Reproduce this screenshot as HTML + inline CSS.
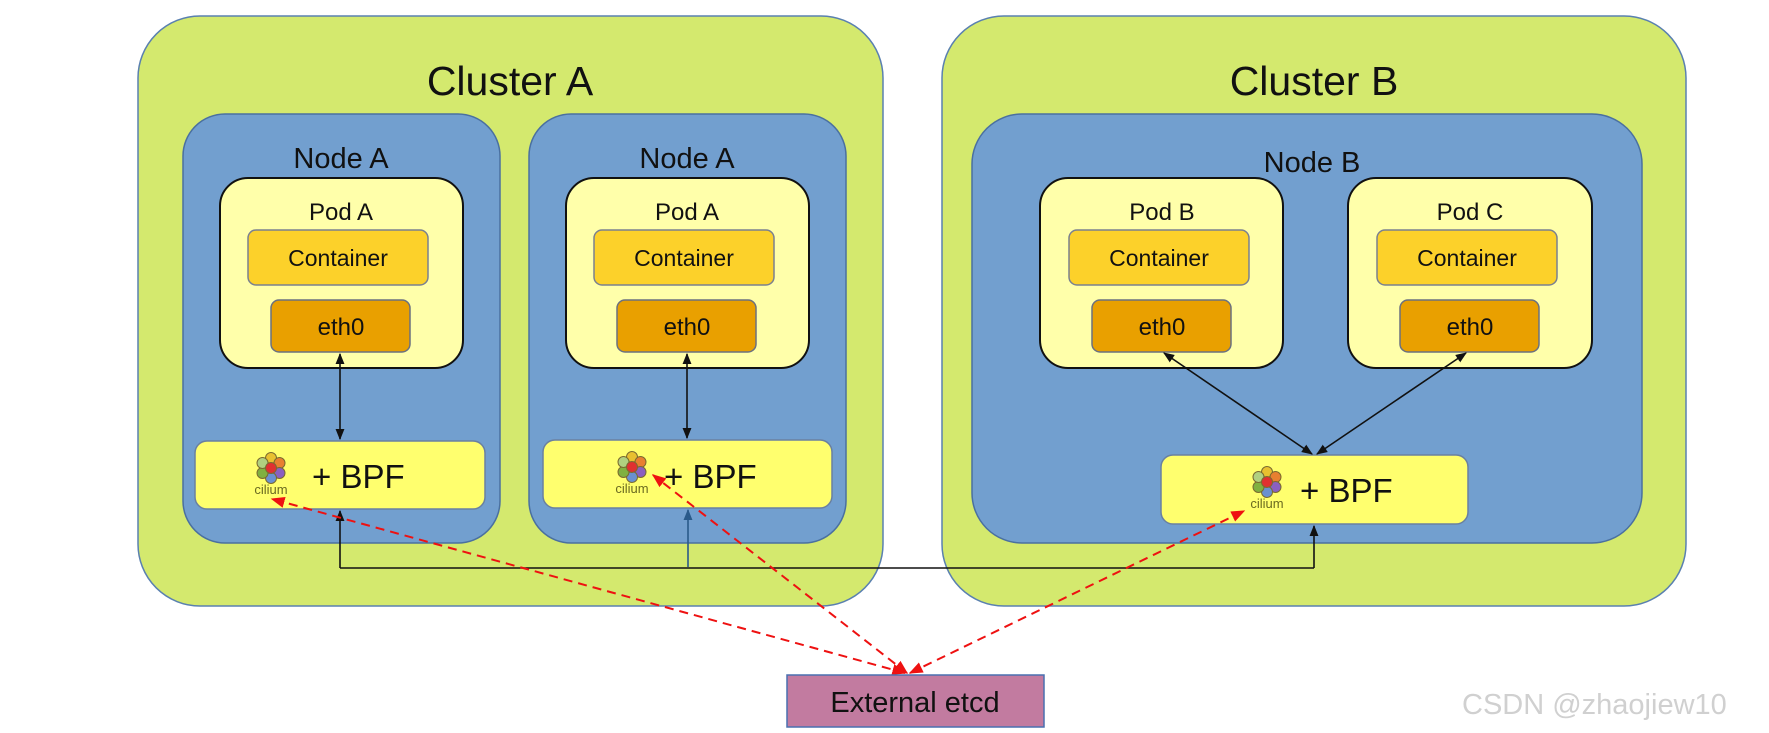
<!DOCTYPE html>
<html><head><meta charset="utf-8"><style>
html,body{margin:0;padding:0;background:#fff;}
svg{display:block;}
text{font-family:"Liberation Sans",Arial,sans-serif;fill:#111;}
</style></head><body>
<svg width="1769" height="733" viewBox="0 0 1769 733" xmlns="http://www.w3.org/2000/svg">
<defs>
<marker id="ab" viewBox="0 0 10 10" refX="9" refY="5" markerWidth="7" markerHeight="7" orient="auto-start-reverse"><path d="M0,1 L10,5 L0,9 z" fill="#111"/></marker>
<marker id="abl" viewBox="0 0 10 10" refX="9" refY="5" markerWidth="7" markerHeight="7" orient="auto"><path d="M0,1 L10,5 L0,9 z" fill="#2a5a8a"/></marker>
<marker id="ar" viewBox="0 0 10 10" refX="9" refY="5" markerWidth="7" markerHeight="7" orient="auto-start-reverse"><path d="M0,1 L10,5 L0,9 z" fill="#ee1111"/></marker>
<g id="cil">
<circle cx="0" cy="-10" r="5.5" fill="#e8c030" stroke="#7a6a30" stroke-width="1"/>
<circle cx="8.5" cy="-5" r="5.5" fill="#e88030" stroke="#7a6a30" stroke-width="1"/>
<circle cx="8.5" cy="5" r="5.5" fill="#8a60c0" stroke="#7a6a30" stroke-width="1"/>
<circle cx="0" cy="10" r="5.5" fill="#6a90d0" stroke="#7a6a30" stroke-width="1"/>
<circle cx="-8.5" cy="5" r="5.5" fill="#80b040" stroke="#7a6a30" stroke-width="1"/>
<circle cx="-8.5" cy="-5" r="5.5" fill="#b0d080" stroke="#7a6a30" stroke-width="1"/>
<circle cx="0" cy="0" r="5.5" fill="#e03030" stroke="#7a6a30" stroke-width="1"/>
<text x="0" y="26" text-anchor="middle" font-size="13" style="fill:#6a6a20">cilium</text>
</g>
</defs>

<rect x="138" y="16" width="745" height="590" rx="62" fill="#d4e96e" stroke="#5a80b0" stroke-width="1.5"/>
<rect x="942" y="16" width="744" height="590" rx="62" fill="#d4e96e" stroke="#5a80b0" stroke-width="1.5"/>
<text x="510" y="95" text-anchor="middle" font-size="41">Cluster A</text>
<text x="1314" y="95" text-anchor="middle" font-size="41">Cluster B</text>

<rect x="183" y="114" width="317" height="429" rx="42" fill="#729fcf" stroke="#4a70a0" stroke-width="1.5"/>
<rect x="529" y="114" width="317" height="429" rx="42" fill="#729fcf" stroke="#4a70a0" stroke-width="1.5"/>
<rect x="972" y="114" width="670" height="429" rx="50" fill="#729fcf" stroke="#4a70a0" stroke-width="1.5"/>
<text x="341" y="168" text-anchor="middle" font-size="29">Node A</text>
<text x="687" y="168" text-anchor="middle" font-size="29">Node A</text>
<text x="1312" y="172" text-anchor="middle" font-size="29">Node B</text>

<g stroke="#111" stroke-width="2" fill="#ffffaa">
<rect x="220" y="178" width="243" height="190" rx="28"/>
<rect x="566" y="178" width="243" height="190" rx="28"/>
<rect x="1040" y="178" width="243" height="190" rx="28"/>
<rect x="1348" y="178" width="244" height="190" rx="28"/>
</g>
<text x="341" y="220" text-anchor="middle" font-size="24">Pod A</text>
<text x="687" y="220" text-anchor="middle" font-size="24">Pod A</text>
<text x="1162" y="220" text-anchor="middle" font-size="24">Pod B</text>
<text x="1470" y="220" text-anchor="middle" font-size="24">Pod C</text>

<g fill="#fcd12a" stroke="#7a8090" stroke-width="1.5">
<rect x="248" y="230" width="180" height="55" rx="8"/>
<rect x="594" y="230" width="180" height="55" rx="8"/>
<rect x="1069" y="230" width="180" height="55" rx="8"/>
<rect x="1377" y="230" width="180" height="55" rx="8"/>
</g>
<g font-size="23" text-anchor="middle">
<text x="338" y="266">Container</text>
<text x="684" y="266">Container</text>
<text x="1159" y="266">Container</text>
<text x="1467" y="266">Container</text>
</g>

<g fill="#e9a000" stroke="#6a7080" stroke-width="1.5">
<rect x="271" y="300" width="139" height="52" rx="8"/>
<rect x="617" y="300" width="139" height="52" rx="8"/>
<rect x="1092" y="300" width="139" height="52" rx="8"/>
<rect x="1400" y="300" width="139" height="52" rx="8"/>
</g>
<g font-size="24" text-anchor="middle">
<text x="341" y="335">eth0</text>
<text x="687" y="335">eth0</text>
<text x="1162" y="335">eth0</text>
<text x="1470" y="335">eth0</text>
</g>

<g fill="#ffff6e" stroke="#6a80a0" stroke-width="1.5">
<rect x="195" y="441" width="290" height="68" rx="12"/>
<rect x="543" y="440" width="289" height="68" rx="12"/>
<rect x="1161" y="455" width="307" height="69" rx="12"/>
</g>
<use href="#cil" x="271" y="468"/>
<use href="#cil" x="632" y="467"/>
<use href="#cil" x="1267" y="482"/>
<g font-size="33">
<text x="312" y="488">+ BPF</text>
<text x="664" y="488">+ BPF</text>
<text x="1300" y="502">+ BPF</text>
</g>

<g stroke="#111" stroke-width="1.6" fill="none">
<line x1="340" y1="354" x2="340" y2="439" marker-start="url(#ab)" marker-end="url(#ab)"/>
<line x1="687" y1="354" x2="687" y2="438" marker-start="url(#ab)" marker-end="url(#ab)"/>
<line x1="1164" y1="353" x2="1312" y2="454" marker-start="url(#ab)" marker-end="url(#ab)"/>
<line x1="1466" y1="353" x2="1317" y2="454" marker-start="url(#ab)" marker-end="url(#ab)"/>
<polyline points="340,568 1314,568"/>
<line x1="340" y1="568" x2="340" y2="511" marker-end="url(#ab)"/>
<line x1="1314" y1="568" x2="1314" y2="526" marker-end="url(#ab)"/>
</g>
<line x1="688" y1="567" x2="688" y2="510" stroke="#2a5a8a" stroke-width="1.6" marker-end="url(#abl)"/>

<g stroke="#ee1111" stroke-width="2" fill="none" stroke-dasharray="9,6">
<line x1="905" y1="673" x2="272" y2="499" marker-start="url(#ar)" marker-end="url(#ar)"/>
<line x1="907" y1="673" x2="653" y2="475" marker-start="url(#ar)" marker-end="url(#ar)"/>
<line x1="910" y1="673" x2="1244" y2="511" marker-start="url(#ar)" marker-end="url(#ar)"/>
</g>

<rect x="787" y="675" width="257" height="52" fill="#c27ba0" stroke="#4a70b0" stroke-width="1.5"/>
<text x="915" y="712" text-anchor="middle" font-size="29">External etcd</text>

<text x="1462" y="714" font-size="29" style="fill:#d0d0d0">CSDN @zhaojiew10</text>
</svg>
</body></html>
